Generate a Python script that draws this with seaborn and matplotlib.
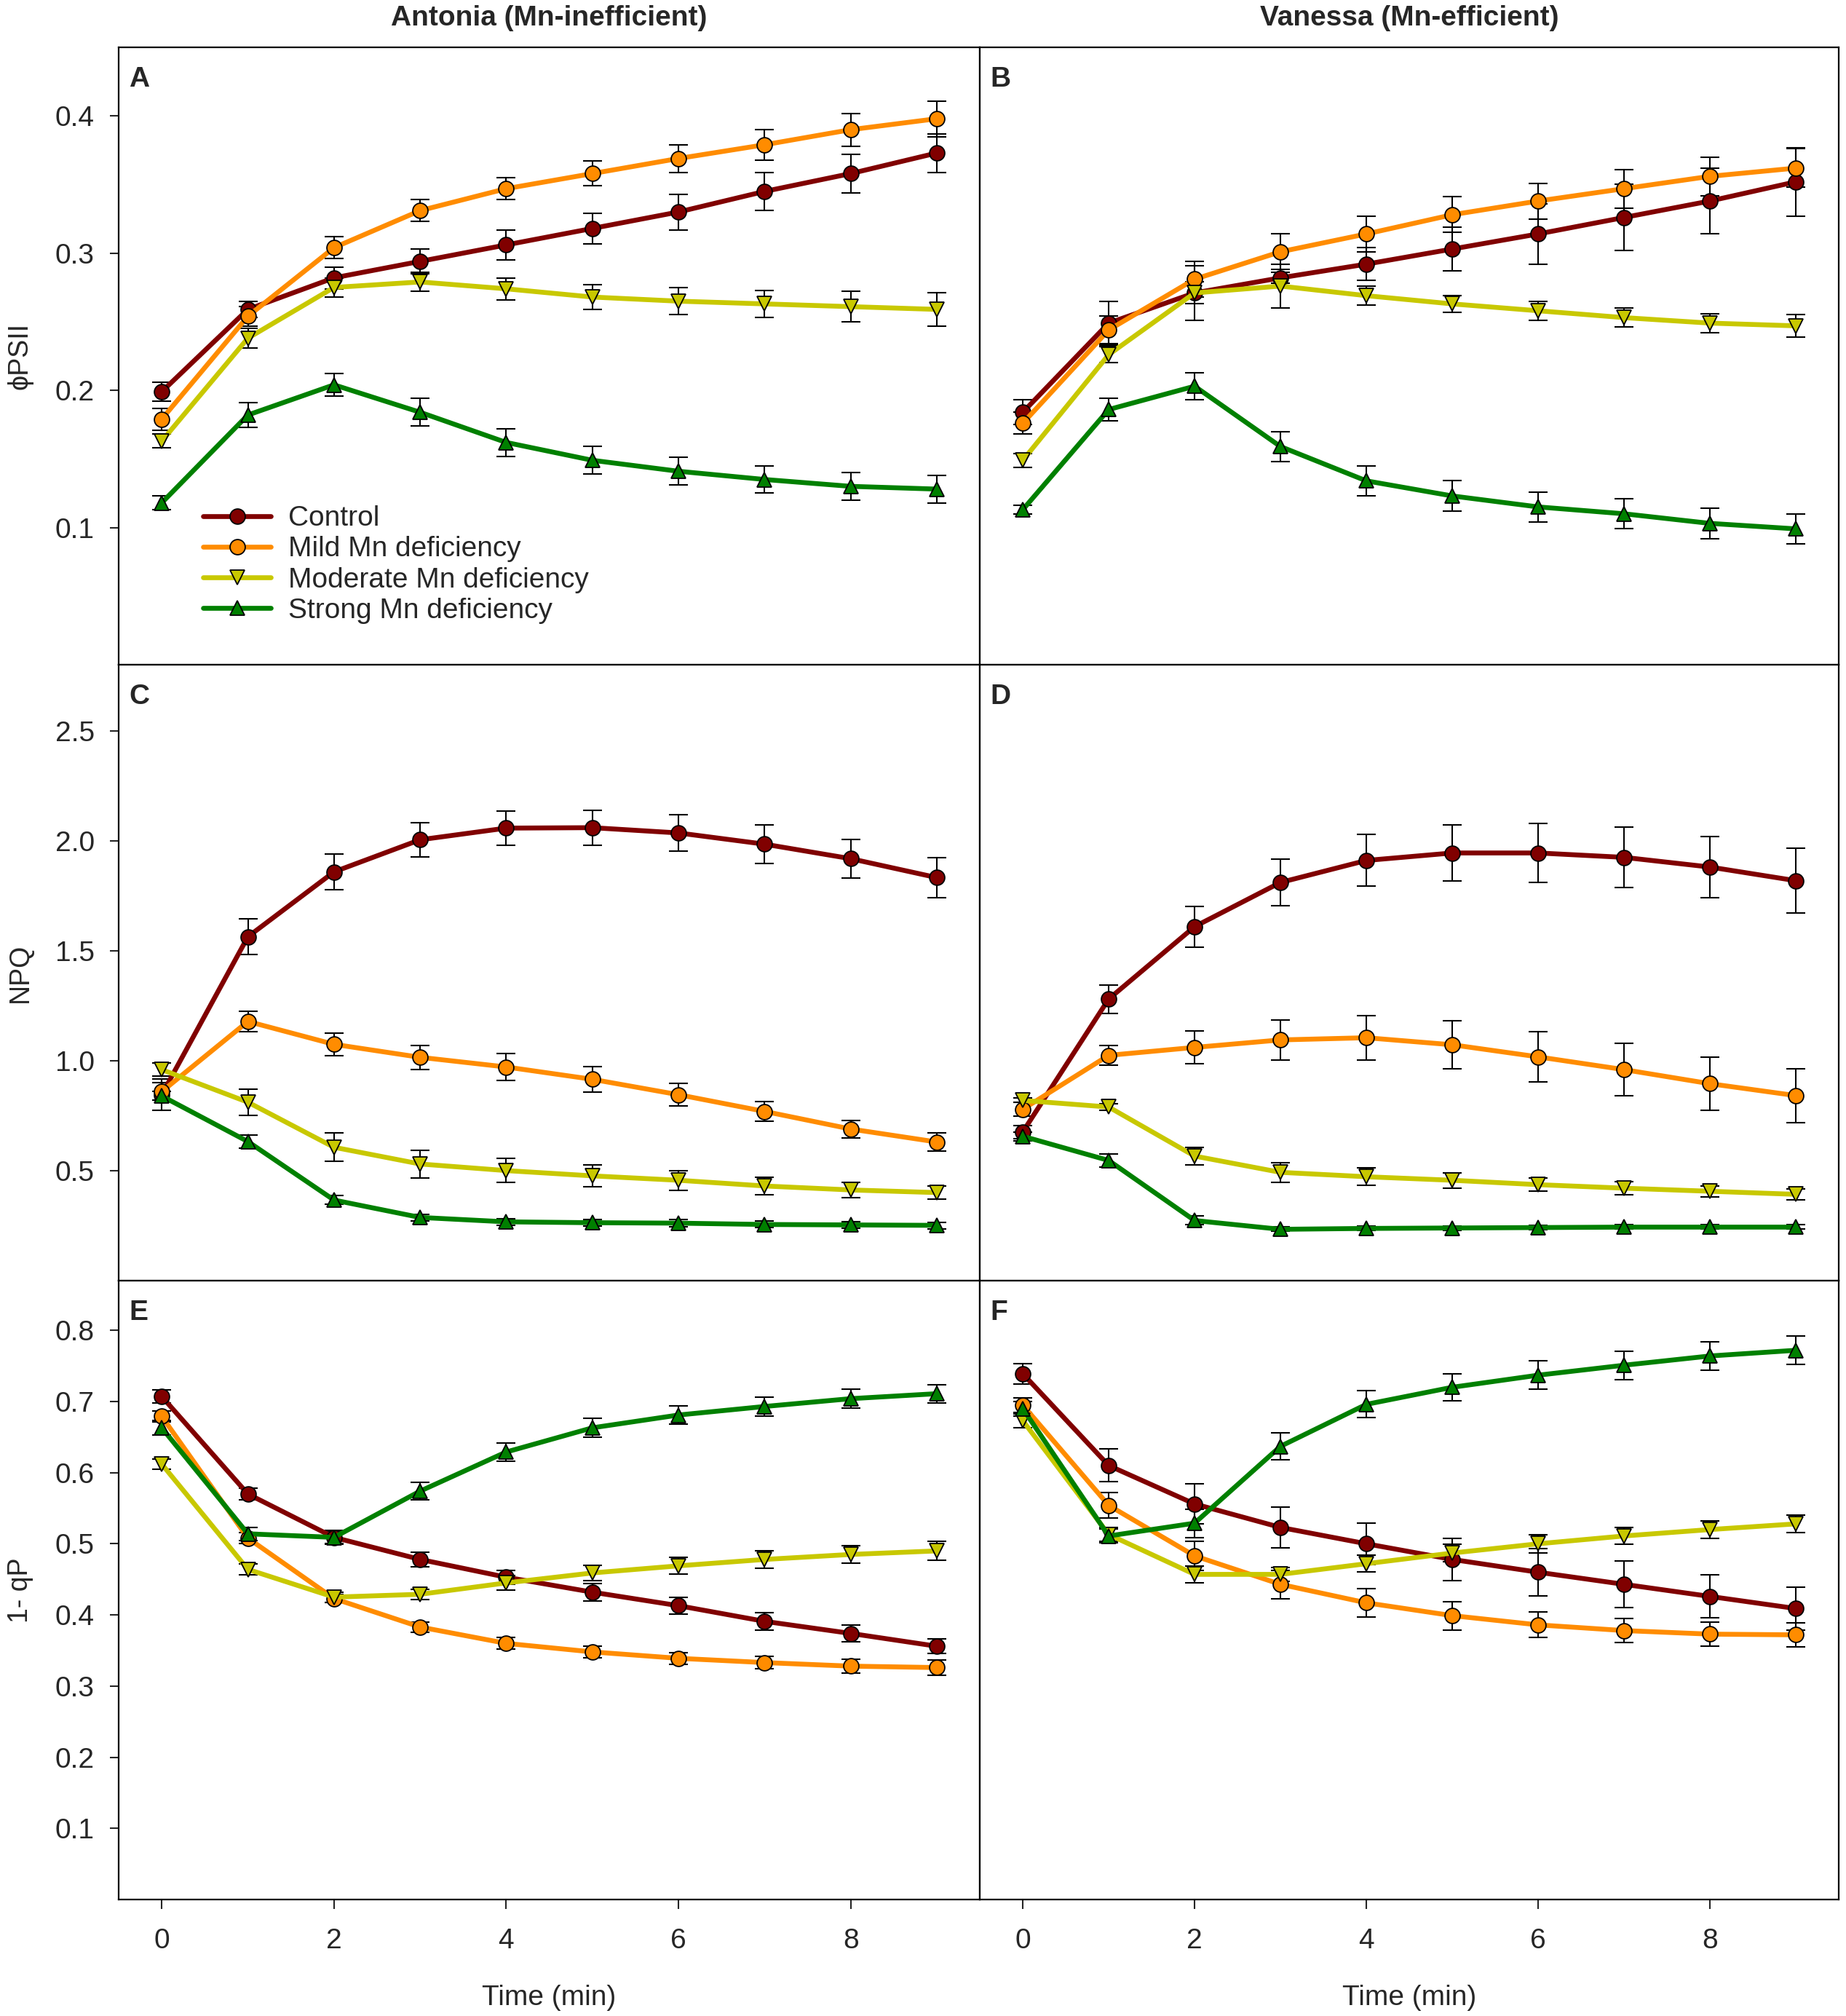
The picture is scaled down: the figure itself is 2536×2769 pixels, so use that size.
import matplotlib
matplotlib.use("Agg")
import matplotlib.pyplot as plt
from matplotlib.lines import Line2D
import seaborn as sns
import pandas as pd

time = list(range(10))
treatments = ["Control", "Mild Mn deficiency", "Moderate Mn deficiency", "Strong Mn deficiency"]
colors = ["#800000", "#FF8C00", "#C8C800", "#008000"]
markers = ["o", "o", "v", "^"]
col_titles = ["Antonia (Mn-inefficient)", "Vanessa (Mn-efficient)"]
row_labels = ["\u03d5PSII", "NPQ", "1- qP"]

# rows: control, mild, moderate, strong
phi_antonia = [
    [0.199, 0.259, 0.282, 0.294, 0.306, 0.318, 0.330, 0.345, 0.358, 0.373],
    [0.179, 0.254, 0.304, 0.331, 0.347, 0.358, 0.369, 0.379, 0.390, 0.398],
    [0.163, 0.238, 0.275, 0.279, 0.274, 0.268, 0.265, 0.263, 0.261, 0.259],
    [0.118, 0.182, 0.204, 0.184, 0.162, 0.149, 0.141, 0.135, 0.130, 0.128],
]
phi_antonia_se = [
    [0.007, 0.006, 0.008, 0.009, 0.011, 0.011, 0.013, 0.014, 0.014, 0.014],
    [0.008, 0.007, 0.008, 0.008, 0.008, 0.009, 0.010, 0.011, 0.012, 0.013],
    [0.005, 0.007, 0.007, 0.007, 0.008, 0.009, 0.010, 0.010, 0.011, 0.012],
    [0.005, 0.009, 0.008, 0.010, 0.010, 0.010, 0.010, 0.010, 0.010, 0.010],
]
phi_vanessa = [
    [0.184, 0.249, 0.271, 0.282, 0.292, 0.303, 0.314, 0.326, 0.338, 0.352],
    [0.176, 0.244, 0.281, 0.301, 0.314, 0.328, 0.338, 0.347, 0.356, 0.362],
    [0.149, 0.226, 0.271, 0.276, 0.269, 0.263, 0.258, 0.253, 0.249, 0.247],
    [0.113, 0.186, 0.203, 0.159, 0.134, 0.123, 0.115, 0.110, 0.103, 0.099],
]
phi_vanessa_se = [
    [0.009, 0.016, 0.008, 0.004, 0.012, 0.016, 0.022, 0.024, 0.024, 0.025],
    [0.008, 0.010, 0.013, 0.013, 0.013, 0.013, 0.013, 0.014, 0.014, 0.014],
    [0.005, 0.006, 0.020, 0.016, 0.007, 0.006, 0.007, 0.007, 0.007, 0.008],
    [0.003, 0.008, 0.010, 0.011, 0.011, 0.011, 0.011, 0.011, 0.011, 0.011],
]
npq_antonia = [
    [0.845, 1.563, 1.858, 2.004, 2.057, 2.059, 2.035, 1.984, 1.918, 1.832],
    [0.859, 1.178, 1.074, 1.015, 0.971, 0.915, 0.845, 0.769, 0.689, 0.630],
    [0.959, 0.811, 0.606, 0.530, 0.500, 0.476, 0.456, 0.430, 0.412, 0.400],
    [0.839, 0.632, 0.366, 0.287, 0.267, 0.263, 0.261, 0.255, 0.253, 0.251],
]
npq_antonia_se = [
    [0.070, 0.080, 0.080, 0.078, 0.079, 0.080, 0.082, 0.088, 0.087, 0.090],
    [0.040, 0.045, 0.050, 0.055, 0.060, 0.058, 0.050, 0.045, 0.040, 0.040],
    [0.030, 0.060, 0.065, 0.063, 0.055, 0.050, 0.045, 0.040, 0.035, 0.030],
    [0.020, 0.030, 0.020, 0.015, 0.015, 0.015, 0.015, 0.015, 0.015, 0.015],
]
npq_vanessa = [
    [0.676, 1.280, 1.609, 1.810, 1.910, 1.944, 1.944, 1.924, 1.880, 1.818],
    [0.779, 1.024, 1.060, 1.094, 1.104, 1.072, 1.017, 0.959, 0.895, 0.841],
    [0.819, 0.789, 0.566, 0.492, 0.472, 0.456, 0.436, 0.420, 0.406, 0.392],
    [0.656, 0.546, 0.273, 0.233, 0.237, 0.239, 0.241, 0.243, 0.243, 0.243],
]
npq_vanessa_se = [
    [0.030, 0.065, 0.093, 0.107, 0.118, 0.127, 0.135, 0.138, 0.140, 0.147],
    [0.030, 0.045, 0.075, 0.090, 0.100, 0.110, 0.115, 0.118, 0.120, 0.122],
    [0.010, 0.015, 0.040, 0.045, 0.040, 0.035, 0.030, 0.030, 0.025, 0.025],
    [0.020, 0.030, 0.020, 0.010, 0.010, 0.010, 0.010, 0.010, 0.010, 0.010],
]
qp_antonia = [
    [0.707, 0.570, 0.509, 0.478, 0.453, 0.432, 0.413, 0.391, 0.374, 0.356],
    [0.679, 0.508, 0.423, 0.383, 0.360, 0.348, 0.339, 0.333, 0.328, 0.326],
    [0.612, 0.464, 0.425, 0.429, 0.445, 0.459, 0.469, 0.478, 0.485, 0.490],
    [0.663, 0.514, 0.509, 0.574, 0.629, 0.663, 0.681, 0.693, 0.704, 0.711],
]
qp_antonia_se = [
    [0.009, 0.008, 0.009, 0.010, 0.010, 0.012, 0.012, 0.012, 0.012, 0.010],
    [0.008, 0.008, 0.006, 0.007, 0.008, 0.008, 0.008, 0.009, 0.010, 0.011],
    [0.007, 0.008, 0.007, 0.007, 0.010, 0.011, 0.012, 0.012, 0.012, 0.013],
    [0.010, 0.009, 0.010, 0.012, 0.013, 0.013, 0.013, 0.013, 0.013, 0.013],
]
qp_vanessa = [
    [0.739, 0.610, 0.556, 0.523, 0.500, 0.478, 0.460, 0.443, 0.426, 0.409],
    [0.695, 0.554, 0.483, 0.443, 0.417, 0.399, 0.386, 0.378, 0.373, 0.372],
    [0.673, 0.513, 0.457, 0.457, 0.472, 0.487, 0.500, 0.511, 0.520, 0.528],
    [0.690, 0.511, 0.529, 0.637, 0.696, 0.720, 0.737, 0.751, 0.764, 0.772],
]
qp_vanessa_se = [
    [0.014, 0.023, 0.028, 0.029, 0.029, 0.030, 0.033, 0.033, 0.030, 0.030],
    [0.010, 0.018, 0.020, 0.020, 0.020, 0.020, 0.018, 0.017, 0.017, 0.017],
    [0.010, 0.010, 0.012, 0.010, 0.012, 0.012, 0.013, 0.012, 0.012, 0.012],
    [0.010, 0.010, 0.020, 0.019, 0.019, 0.019, 0.020, 0.020, 0.020, 0.020],
]

sns.set_style("ticks")
plt.rcParams["font.family"] = ["Liberation Sans", "DejaVu Sans"]

fig = plt.figure(figsize=(25.36, 27.69), dpi=100)

lefts = [0.0643, 0.5308]
widths = [0.4665, 0.4653]
bottoms = [0.6703, 0.3648, 0.0578]
heights = [0.3062, 0.3055, 0.3070]
ylims = [(0, 0.45), (0, 2.8), (0, 0.87)]
yticks = [[0.1, 0.2, 0.3, 0.4], [0.5, 1.0, 1.5, 2.0, 2.5], [0.1, 0.2, 0.3, 0.4, 0.5, 0.6, 0.7, 0.8]]
panels = [
    [(phi_antonia, phi_antonia_se, "A"), (phi_vanessa, phi_vanessa_se, "B")],
    [(npq_antonia, npq_antonia_se, "C"), (npq_vanessa, npq_vanessa_se, "D")],
    [(qp_antonia, qp_antonia_se, "E"), (qp_vanessa, qp_vanessa_se, "F")],
]

LW = 4.8
MS = 15


def draw_panel(ax, means, errs):
    rows = []
    for name, m in zip(treatments, means):
        for t, v in zip(time, m):
            rows.append({"time": t, "value": v, "treatment": name})
    df = pd.DataFrame(rows)
    sns.lineplot(data=df, x="time", y="value", hue="treatment", style="treatment",
                 hue_order=treatments, style_order=treatments, palette=colors,
                 markers=markers, dashes=False, linewidth=LW, markersize=MS,
                 markeredgecolor="black", markeredgewidth=1.3, errorbar=None,
                 legend=False, ax=ax)
    for m, e in zip(means, errs):
        ax.errorbar(time, m, yerr=e, fmt="none", ecolor="black", elinewidth=1.5,
                    capsize=9.5, capthick=1.5, zorder=1.5)


for r in range(3):
    for c in range(2):
        means, errs, letter = panels[r][c]
        ax = fig.add_axes([lefts[c], bottoms[r], widths[c], heights[r]])
        draw_panel(ax, means, errs)
        ax.set_xlim(-0.5, 9.5)
        ax.set_ylim(*ylims[r])
        ax.set_xticks([0, 2, 4, 6, 8])
        ax.set_yticks(yticks[r])
        for sp in ax.spines.values():
            sp.set_linewidth(1.6)
            sp.set_color("black")
        ax.tick_params(direction="out", length=9, width=1.5, labelsize=28)
        ax.tick_params(axis="y", pad=15)
        ax.tick_params(axis="x", pad=19)
        ax.set_xlabel("")
        ax.set_ylabel("")
        if r < 2:
            ax.tick_params(axis="x", bottom=False, labelbottom=False)
        else:
            ax.set_xlabel("Time (min)", fontsize=28)
            ax.xaxis.set_label_coords(0.5, -0.138)
        if c == 1:
            ax.tick_params(axis="y", left=False, labelleft=False)
        else:
            ax.set_ylabel(row_labels[r], fontsize=27)
            ax.yaxis.set_label_coords(-0.099, 0.5)
        ax.text(0.012, 0.948, letter, transform=ax.transAxes, fontsize=28,
                fontweight="bold", ha="left", va="center")
        if r == 0:
            ax.set_title(col_titles[c], fontsize=28, fontweight="bold", pad=22)
        if r == 0 and c == 0:
            handles = [Line2D([], [], color=col, marker=mk, lw=LW, markersize=MS,
                              markerfacecolor=col, markeredgecolor="black",
                              markeredgewidth=1.3)
                       for col, mk in zip(colors, markers)]
            ax.legend(handles, treatments, loc="upper left", bbox_to_anchor=(0.098, 0.258),
                      frameon=False, fontsize=28, handlelength=2.4, handletextpad=0.6,
                      labelspacing=0.16, borderpad=0, borderaxespad=0)

fig.savefig("out.png", dpi=100)
plt.close(fig)
